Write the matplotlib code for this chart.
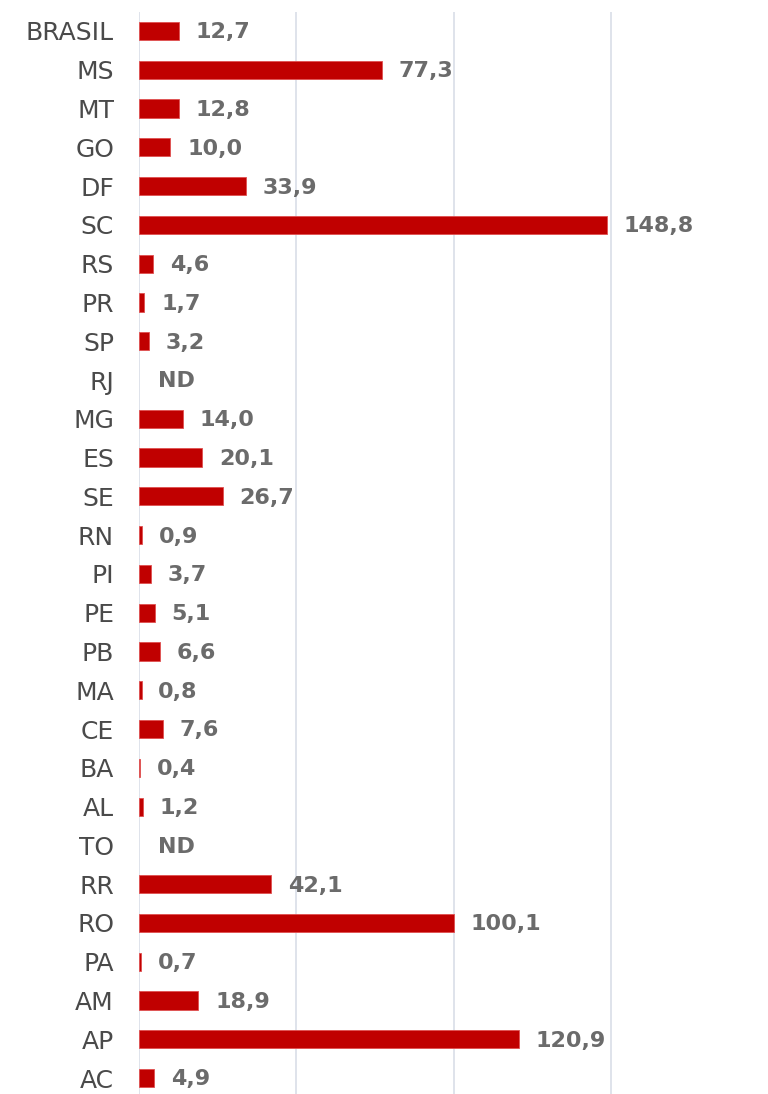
import matplotlib
matplotlib.use("Agg")
import matplotlib.pyplot as plt

categories = ["BRASIL", "MS", "MT", "GO", "DF", "SC", "RS", "PR", "SP", "RJ",
              "MG", "ES", "SE", "RN", "PI", "PE", "PB", "MA", "CE", "BA",
              "AL", "TO", "RR", "RO", "PA", "AM", "AP", "AC"]
values = [12.7, 77.3, 12.8, 10.0, 33.9, 148.8, 4.6, 1.7, 3.2, None,
          14.0, 20.1, 26.7, 0.9, 3.7, 5.1, 6.6, 0.8, 7.6, 0.4,
          1.2, None, 42.1, 100.1, 0.7, 18.9, 120.9, 4.9]
gridticks = [0, 50, 100, 150]

fig = plt.figure(figsize=(7.68, 10.94), dpi=100)
ax = fig.add_axes([0.181, 0.0, 0.819, 0.9894])

ypos = list(range(len(categories)))
bar_y = [y for y, v in zip(ypos, values) if v is not None]
bar_v = [v for v in values if v is not None]
ax.barh(bar_y, bar_v, height=0.47, color="#C00000", edgecolor="#E05050",
        linewidth=0.6, zorder=3)

for y, v in zip(ypos, values):
    if v is None:
        txt, x, off = "ND", 0, 14
    else:
        txt, x, off = f"{v:.1f}".replace(".", ","), v, 12
    ax.annotate(txt, (x, y), xytext=(off, -1), textcoords="offset points",
                ha="left", va="center", fontsize=16, fontweight="bold",
                color="#6b6b6b", family="DejaVu Sans")

ax.set_xlim(0, 200)
ax.set_ylim(27.41, -0.5)
ax.set_yticks(ypos)
ax.set_yticklabels(categories, fontsize=18, color="#4a4a4a", family="DejaVu Sans")
ax.tick_params(axis="y", length=0, pad=18)
ax.set_xticks(gridticks)
ax.tick_params(axis="x", length=0, labelbottom=False)
ax.grid(axis="x", color="#D9DEE8", linewidth=1.2, zorder=0)
for s in ax.spines.values():
    s.set_visible(False)

fig.savefig("out.png", dpi=100)
